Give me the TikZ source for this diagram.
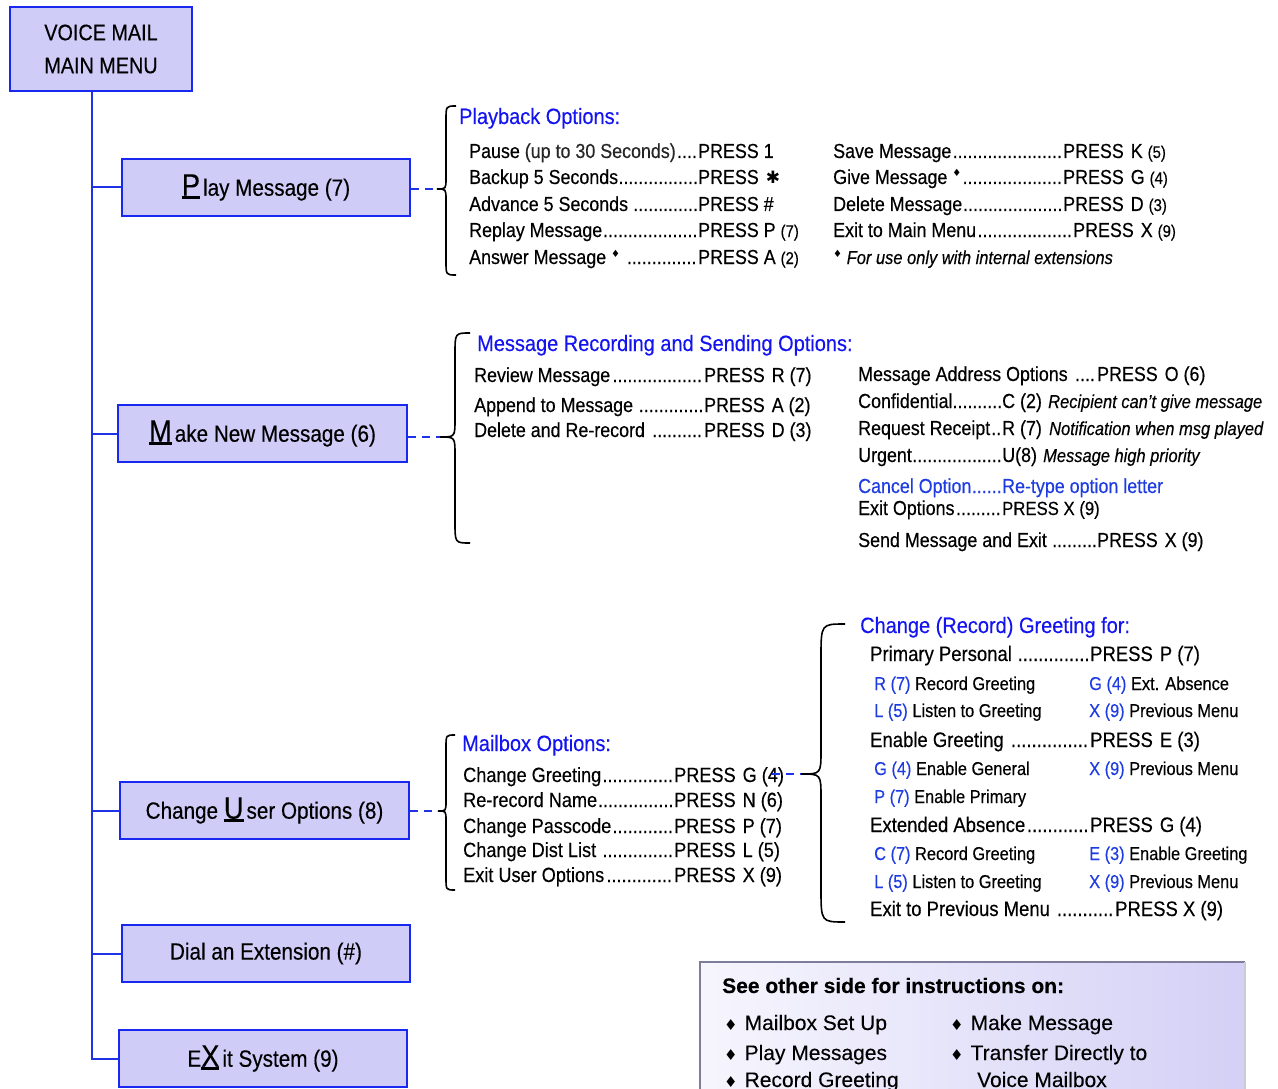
\documentclass[tikz,border=0pt]{standalone}
\usepackage{fontspec}
\setmainfont{Liberation Sans}[FakeStretch=0.88,FakeBold=0.35]
\newfontfamily\headfont{Liberation Sans}[FakeStretch=0.9,FakeBold=0.3]
\newfontfamily\widefont{Liberation Sans}[FakeBold=0.2]
\newfontfamily\dejavu{DejaVu Sans}
\usetikzlibrary{calc}

\definecolor{boxfill}{RGB}{208,204,248}
\definecolor{boxdraw}{RGB}{25,40,240}
\definecolor{lineblue}{RGB}{30,50,230}
\definecolor{hblue}{RGB}{20,20,240}
\definecolor{kblue}{RGB}{30,60,225}
\definecolor{notefill}{RGB}{212,208,246}
\definecolor{notedraw}{RGB}{125,125,155}

\newcommand\dfill{\cleaders\hbox{.}\hfill}
\newcommand\drow[3]{\hbox to #1pt{#2\dfill}#3}
\newcommand\ps{PRESS\hspace{7pt}}
\newcommand\bigul[1]{\setbox0\hbox{\fontsize{31}{31}\selectfont#1}\rlap{\rule[-2.8pt]{\wd0}{2.8pt}}\box0\kern3pt}
\newcommand\supdia{\raisebox{7pt}{\dejavu\fontsize{10}{10}\selectfont ♦}}
\newcommand\sm[1]{{\fontsize{17}{17}\selectfont #1}}
\newcommand\kb[1]{{\color{kblue}#1}}
\newcommand\mybrace[7]{%
  \coordinate (#1) at (#2,#6);
  \draw[bracestyle] (#4,#5) .. controls (#3,#5) .. (#3,{#5+1.4*(#4-#3)})
    -- (#3,{#6-1.2*(#3-#2)}) .. controls (#3,#6) .. (#1)
    .. controls (#3,#6) .. (#3,{#6+1.2*(#3-#2)})
    -- (#3,{#7-1.4*(#4-#3)}) .. controls (#3,#7) .. (#4,#7);}

\begin{document}
\begin{tikzpicture}[x=1pt,y=-1pt,
  mbox/.style={draw=boxdraw, fill=boxfill, line width=2pt, inner sep=0pt,
    font=\fontsize{23.5}{26}\selectfont},
  txt/.style={anchor=base west, inner sep=0pt, font=\fontsize{20.3}{24}\selectfont},
  gtxt/.style={txt, font=\fontsize{21}{24}\selectfont},
  btxt/.style={txt, font=\fontsize{20.6}{24}\selectfont},
  head/.style={txt, text=hblue, font=\headfont\fontsize{22.2}{26}\selectfont},
  sub/.style={txt, font=\fontsize{18.6}{22}\selectfont},
  note/.style={txt, font=\fontsize{18.7}{22}\selectfont\itshape},
  wtxt/.style={anchor=base west, inner sep=0pt, font=\widefont\fontsize{21}{24}\selectfont},
  trunk/.style={draw=lineblue, line width=2pt},
  link/.style={draw=lineblue, line width=2pt, dash pattern=on 8pt off 6pt},
  bracestyle/.style={draw=black, line width=1.6pt}]
\useasboundingbox (0,0) rectangle (1278,1089);

% ---- main boxes
\node[mbox, minimum width=182pt, minimum height=84pt, align=center,
  font=\fontsize{22.5}{33}\selectfont] (main) at (101,49) {VOICE MAIL\\MAIN MENU};
\node[mbox, minimum width=288pt, minimum height=57pt] (play) at (266,187.5) {\bigul{P}lay Message (7)};
\node[mbox, minimum width=289pt, minimum height=57pt] (make) at (262.5,433.5) {\bigul{M}ake New Message (6)};
\node[mbox, minimum width=289pt, minimum height=57pt] (user) at (264.5,810.5) {Change \bigul{U}ser Options (8)};
\node[mbox, minimum width=288pt, minimum height=57pt] (dial) at (266,953.5) {Dial an Extension (\#)};
\node[mbox, minimum width=288pt, minimum height=57pt] (exit) at (263,1058.5) {E\bigul{X}it System (9)};

\coordinate (tb) at (92,1058.5);
\draw[trunk] (main.south -| tb) -- (tb) -- (exit.west);
\draw[trunk] (play.west -| tb) -- (play.west);
\draw[trunk] (make.west -| tb) -- (make.west);
\draw[trunk] (user.west -| tb) -- (user.west);
\draw[trunk] (dial.west -| tb) -- (dial.west);

% ---- braces
\mybrace{t1}{437}{446}{456}{106}{189}{275}
\mybrace{t2}{440}{455}{470}{333}{437}{543}
\mybrace{t3}{438}{446}{455}{735}{811}{890}
\mybrace{t4}{801}{821}{845}{624}{774}{922}

\draw[link] (play.east |- t1) -- (t1);
\draw[link] (make.east |- t2) -- (t2);
\draw[link] (user.east |- t3) -- (t3);

% ---- Playback options
\node[head] (pbh) at (459,124) {Playback Options:};
\node[txt] (pb1) at (469,158) {\drow{229}{Pause {\color{black!85}(up to 30 Seconds)}}{PRESS 1}};
\node[txt] (pb2) at (469,184) {\drow{229}{Backup 5 Seconds}{\ps{\dejavu\fontsize{17}{17}\selectfont ✱}}};
\node[txt] (pb3) at (469,211) {\drow{229}{Advance 5 Seconds\ }{PRESS \#}};
\node[txt] (pb4) at (469,237) {\drow{229}{Replay Message}{PRESS P \sm{(7)}}};
\node[txt] (pb5) at (469,264) {\drow{229}{Answer Message \supdia\ }{PRESS A \sm{(2)}}};
\node[txt] (pr1) at (833,158) {\drow{230}{Save Message}{\ps K \sm{(5)}}};
\node[txt] (pr2) at (833,184) {\drow{230}{Give Message \supdia}{\ps G \sm{(4)}}};
\node[txt] (pr3) at (833,211) {\drow{230}{Delete Message}{\ps D \sm{(3)}}};
\node[txt] (pr4) at (833,237) {\drow{240}{Exit to Main Menu}{\ps X \sm{(9)}}};
\node[note] (pr5) at (833,264) {\supdia\ For use only with internal extensions};

% ---- Message recording
\node[head] (mkh) at (477,351) {Message Recording and Sending Options:};
\node[txt] (mk1) at (474,382) {\drow{230}{Review Message}{\ps R (7)}};
\node[txt] (mk2) at (474,412) {\drow{230}{Append to Message\ }{\ps A (2)}};
\node[txt] (mk3) at (474,437) {\drow{230}{Delete and Re-record\ }{\ps D (3)}};
\node[txt] (ma1) at (858,381) {\drow{239}{Message Address Options\ }{\ps O (6)}};
\node[txt] (ma2) at (858,408) {\drow{144}{Confidential}{C (2)}};
\node[note] (ma2n) at (1048,408) {Recipient can't give message};
\node[txt] (ma3) at (858,435) {\drow{144}{Request Receipt}{R (7)}};
\node[note] (ma3n) at (1049,435) {Notification when msg played};
\node[txt] (ma4) at (858,462) {\drow{144}{Urgent}{U(8)}};
\node[note] (ma4n) at (1043,462) {Message high priority};
\node[txt, text=kblue] (ma5) at (858,493) {\drow{144}{Cancel Option}{Re-type option letter}};
\node[txt] (ma6) at (858,515) {\drow{144}{Exit Options}{\fontsize{19}{22}\selectfont PRESS X (9)}};
\node[txt] (ma7) at (858,547) {\drow{239}{Send Message and Exit\ }{\ps X (9)}};

% ---- Mailbox options
\node[head] (mbh) at (462,751) {Mailbox Options:};
\node[btxt] (mb1) at (463,782) {\drow{211}{Change Greeting}{\ps G (4)}};
\node[btxt] (mb2) at (463,807) {\drow{211}{Re-record Name}{\ps N (6)}};
\node[btxt] (mb3) at (463,833) {\drow{211}{Change Passcode}{\ps P (7)}};
\node[btxt] (mb4) at (463,857) {\drow{211}{Change Dist List\ }{\ps L (5)}};
\node[btxt] (mb5) at (463,882) {\drow{211}{Exit User Options}{\ps X (9)}};
\coordinate (g4) at (772,774);
\draw[link] (g4) -- (t4);

% ---- Greeting
\node[head] (grh) at (860,633) {Change (Record) Greeting for:};
\node[gtxt] (gr1) at (870,661) {\drow{220}{Primary Personal\ }{\ps P (7)}};
\node[sub] (gs1a) at (874,690) {\kb{R (7)}\ Record Greeting};
\node[sub] (gs1b) at (1089,690) {\kb{G (4)}\ Ext. Absence};
\node[sub] (gs2a) at (874,717) {\kb{L (5)}\ Listen to Greeting};
\node[sub] (gs2b) at (1089,717) {\kb{X (9)}\ Previous Menu};
\node[gtxt] (gr2) at (870,747) {\drow{220}{Enable Greeting\ }{\ps E (3)}};
\node[sub] (gs3a) at (874,775) {\kb{G (4)}\ Enable General};
\node[sub] (gs3b) at (1089,775) {\kb{X (9)}\ Previous Menu};
\node[sub] (gs4a) at (874,803) {\kb{P (7)}\ Enable Primary};
\node[gtxt] (gr3) at (870,832) {\drow{220}{Extended Absence}{\ps G (4)}};
\node[sub] (gs5a) at (874,860) {\kb{C (7)}\ Record Greeting};
\node[sub] (gs5b) at (1089,860) {\kb{E (3)}\ Enable Greeting};
\node[sub] (gs6a) at (874,888) {\kb{L (5)}\ Listen to Greeting};
\node[sub] (gs6b) at (1089,888) {\kb{X (9)}\ Previous Menu};
\node[gtxt] (gr4) at (870,916) {\drow{245}{Exit to Previous Menu\ }{PRESS X (9)}};

% ---- note box
\path[left color=white!80!notefill, right color=notefill] (700,962) rectangle (1245,1095);
\draw[notedraw, line width=2.5pt] (700,1095) -- (700,962) -- (1245,962);
\draw[notedraw!40, line width=2pt] (1245,962) -- (1245,1095);
\node[wtxt, font=\widefont\bfseries\fontsize{21}{24}\selectfont] (nh) at (722,993) {See other side for instructions on:};
\newcommand\bul{{\dejavu\fontsize{15}{15}\selectfont ♦}}
\node[wtxt] (n1) at (724,1030) {\bul\hspace{7pt}Mailbox Set Up};
\node[wtxt] (n2) at (724,1060) {\bul\hspace{7pt}Play Messages};
\node[wtxt] (n3) at (724,1087) {\bul\hspace{7pt}Record Greeting};
\node[wtxt] (n4) at (950,1030) {\bul\hspace{7pt}Make Message};
\node[wtxt] (n5) at (950,1060) {\bul\hspace{7pt}Transfer Directly to};
\node[wtxt] (n6) at (977,1087) {Voice Mailbox};
\end{tikzpicture}
\end{document}
